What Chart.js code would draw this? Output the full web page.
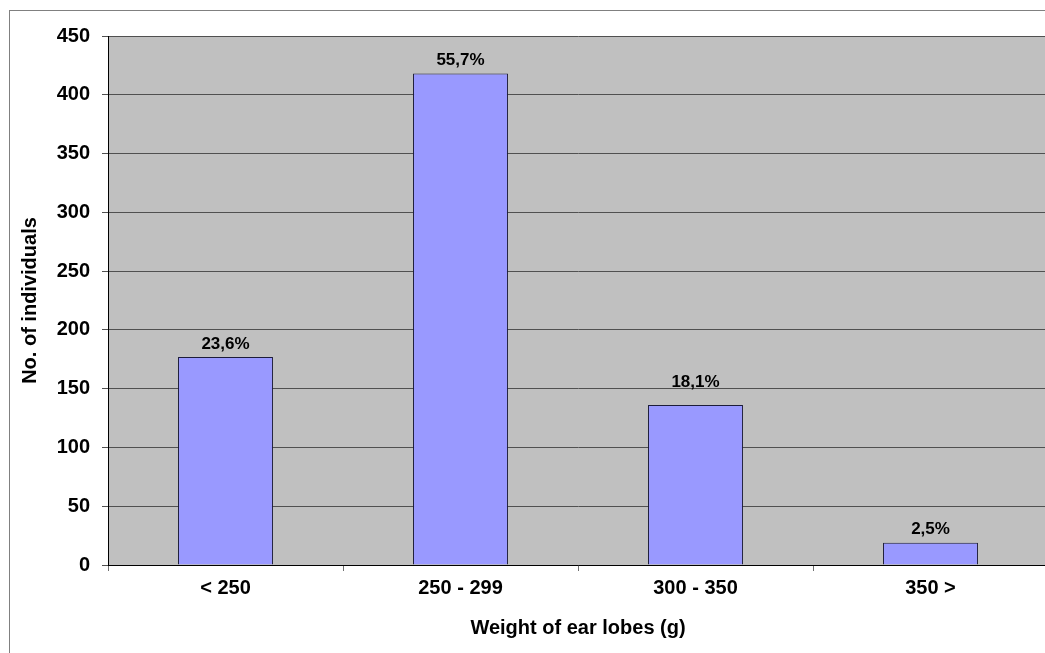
<!DOCTYPE html>
<html lang="en">
<head>
    <meta charset="UTF-8">
    <title>Weight of ear lobes</title>
    <style>
        html, body {
            margin: 0;
            background: #ffffff;
            overflow: hidden;
        }
        canvas {
            display: block;
        }
    </style>
    <script src="https://cdn.jsdelivr.net/npm/chart.js"></script>
</head>
<body>
    <!-- plot runs a few pixels past the right edge of the window -->
    <canvas id="lobeChart" width="1048" height="653"></canvas>
    <script>
        const weightClasses = ['< 250', '250 - 299', '300 - 350', '350 >'];
        const individuals = [177, 418, 136, 19];
        const yTicks = [0, 50, 100, 150, 200, 250, 300, 350, 400, 450];

        const total = individuals.reduce((a, b) => a + b, 0);
        const shares = individuals.map(v => (v / total * 100).toFixed(1).replace('.', ',') + '%');

        const axisFont = { family: '"Liberation Sans", Arial, sans-serif', size: 20, weight: 'bold' };

        // grey plot background plus the thin frame round the whole chart
        const frame = {
            id: 'frame',
            beforeDraw(chart) {
                const { ctx, chartArea: a } = chart;
                ctx.save();
                ctx.fillStyle = '#c0c0c0';
                ctx.fillRect(a.left, a.top, a.right - a.left, a.bottom - a.top);
                ctx.strokeStyle = '#808080';
                ctx.lineWidth = 1;
                ctx.strokeRect(9.5, 10.5, chart.width + 10, chart.height + 10);
                ctx.restore();
            }
        };

        // percentage share written above each bar
        const shareLabels = {
            id: 'shareLabels',
            afterDatasetsDraw(chart, args, opts) {
                const { ctx } = chart;
                const bars = chart.getDatasetMeta(0).data;
                ctx.save();
                ctx.font = 'bold 17px "Liberation Sans", Arial, sans-serif';
                ctx.fillStyle = '#000';
                ctx.textAlign = 'center';
                ctx.textBaseline = 'middle';
                bars.forEach((bar, i) => {
                    const lift = opts.lift[i] || 0;
                    ctx.fillText(shares[i], bar.x, bar.y - 13 - lift);
                });
                ctx.restore();
            }
        };

        new Chart(document.getElementById('lobeChart'), {
            type: 'bar',
            data: {
                labels: weightClasses,
                datasets: [{
                    data: individuals,
                    backgroundColor: '#9999ff',
                    borderColor: '#1c1c3a',
                    borderWidth: 1,
                    categoryPercentage: 1,
                    barPercentage: 0.404
                }]
            },
            options: {
                responsive: false,
                animation: false,
                layout: { padding: { left: 0, top: 36, right: 0, bottom: 0 } },
                plugins: {
                    legend: { display: false },
                    tooltip: { enabled: false },
                    shareLabels: { lift: [0, 0, 10, 0] }
                },
                scales: {
                    x: {
                        grid: {
                            offset: true,
                            drawOnChartArea: false,
                            drawTicks: true,
                            tickLength: 6,
                            color: '#707070'
                        },
                        border: { color: '#000', width: 1 },
                        ticks: { color: '#000', font: axisFont, padding: 5 },
                        title: {
                            display: true,
                            text: 'Weight of ear lobes (g)',
                            color: '#000',
                            font: axisFont,
                            padding: { bottom: 13 }
                        },
                        afterFit(scale) { scale.height = 88; }
                    },
                    y: {
                        min: 0,
                        max: 450,
                        afterBuildTicks(scale) { scale.ticks = yTicks.map(v => ({ value: v })); },
                        grid: {
                            color: '#505050',
                            tickLength: 6
                        },
                        border: { color: '#000', width: 1 },
                        ticks: { color: '#000', font: axisFont, padding: 12 },
                        title: {
                            display: true,
                            text: 'No. of individuals',
                            color: '#000',
                            font: axisFont,
                            padding: { top: 18 }
                        },
                        afterFit(scale) { scale.width = 108; }
                    }
                }
            },
            plugins: [frame, shareLabels]
        });
    </script>
</body>
</html>
